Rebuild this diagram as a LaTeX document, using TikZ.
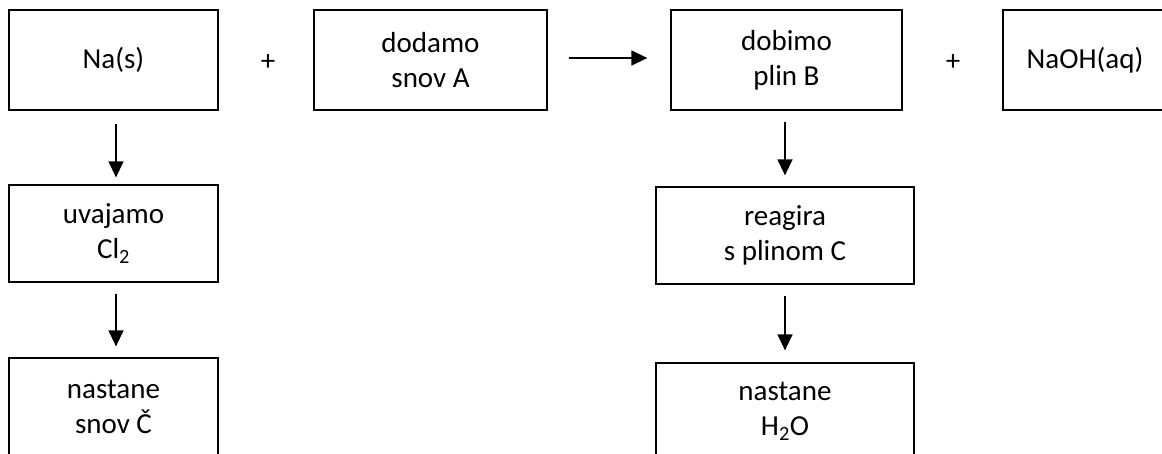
\documentclass[tikz,border=0pt]{standalone}
\usepackage{fontspec}
\setmainfont{Carlito}
\usetikzlibrary{arrows.meta}
\begin{document}
\begin{tikzpicture}[x=1pt,y=-1pt,
  box/.style={draw=black,line width=1.3pt,align=center,inner sep=0pt,
    font=\fontsize{29}{35}\selectfont},
  plus/.style={font=\fontsize{29}{35}\selectfont,inner sep=0pt},
  arr/.style={line width=1.4pt,-{Triangle[length=16pt,width=15pt]}}]
\clip (0,0) rectangle (1162,454);
\fill[white] (0,0) rectangle (1162,454);
\node[box,minimum width=209pt,minimum height=100pt] (na) at (113.5,60) {Na(s)};
\node[box,minimum width=233pt,minimum height=100pt] (dodamo) at (430.5,60) {dodamo\\snov A};
\node[box,minimum width=231pt,minimum height=100pt] (dobimo) at (786.5,60) {dobimo\\plin B};
\node[box,minimum width=164pt,minimum height=100pt] (naoh) at (1085,60) {NaOH(aq)};
\node[plus] (p1) at (268,63) {+};
\node[plus] (p2) at (953,63) {+};
\node[box,minimum width=209pt,minimum height=97pt] (uvajamo) at (113.5,233.5) {uvajamo\\Cl\textsubscript{2}};
\node[box,minimum width=209pt,minimum height=97pt] (nastc) at (113.5,406.5) {nastane\\snov Č};
\node[box,minimum width=258pt,minimum height=97pt] (reagira) at (785,235.5) {reagira\\s plinom C};
\node[box,minimum width=258pt,minimum height=97pt] (h2o) at (785,411.5) {nastane\\H\textsubscript{2}O};
\draw[arr,shorten <=13pt,shorten >=7pt] ([xshift=2.5pt]na.south) -- ([xshift=2.5pt]uvajamo.north);
\draw[arr,shorten <=11pt,shorten >=11pt] ([xshift=2.5pt]uvajamo.south) -- ([xshift=2.5pt]nastc.north);
\draw[arr,shorten <=21pt,shorten >=23pt] ([yshift=2pt]dodamo.east) -- ([yshift=2pt]dobimo.west);
\draw[arr,shorten <=11pt,shorten >=11pt] ([xshift=-1.5pt]dobimo.south) -- (reagira.north);
\draw[arr,shorten <=11pt,shorten >=12pt] (reagira.south) -- (h2o.north);
\end{tikzpicture}
\end{document}
